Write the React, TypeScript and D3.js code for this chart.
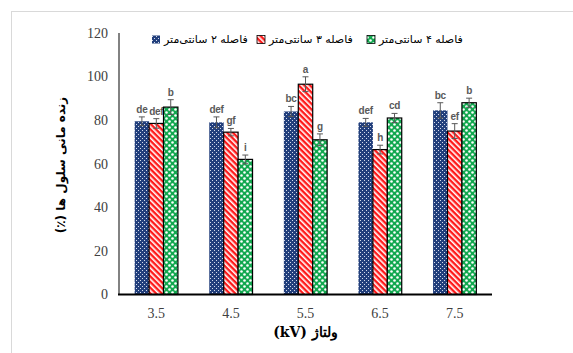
import React, { useEffect, useRef } from 'react';
import * as d3 from 'd3';

const voltages = ['3.5', '4.5', '5.5', '6.5', '7.5'];
const seriesNames = ['فاصله ۲ سانتی‌متر', 'فاصله ۳ سانتی‌متر', 'فاصله ۴ سانتی‌متر'];
const dist2 = [79.5, 79, 84, 79, 84.5];
const dist3 = [78.5, 74.5, 96.5, 66.5, 75];
const dist4 = [86, 62, 71, 81, 88];
const err2 = [2, 2.5, 2.3, 1.8, 3.5];
const err3 = [2.2, 1.7, 3.4, 2, 3.4];
const err4 = [3.4, 2, 2.7, 2.1, 2.1];
const letters2 = ['de', 'def', 'bc', 'def', 'bc'];
const letters3 = ['def', 'gf', 'a', 'h', 'ef'];
const letters4 = ['b', 'i', 'g', 'cd', 'b'];
const yTicks = [0, 20, 40, 60, 80, 100, 120];

const App = () => {
  const ref = useRef(null);

  useEffect(() => {
    const svg = d3.select(ref.current);
    svg.selectAll('*').remove();

    const W = 573, H = 353;
    const margin = { top: 33, right: 81, bottom: 58.5, left: 119 };

    const series = [
      { name: seriesNames[0], vals: dist2, errs: err2, lets: letters2, fill: 'url(#patBlue)', stroke: 'none' },
      { name: seriesNames[1], vals: dist3, errs: err3, lets: letters3, fill: 'url(#patRed)', stroke: '#000' },
      { name: seriesNames[2], vals: dist4, errs: err4, lets: letters4, fill: 'url(#patGreen)', stroke: '#000' },
    ];

    // patterns
    const defs = svg.append('defs');
    const pb = defs.append('pattern').attr('id', 'patBlue').attr('patternUnits', 'userSpaceOnUse')
      .attr('width', 4).attr('height', 4);
    pb.append('rect').attr('width', 4).attr('height', 4).attr('fill', '#223f7c');
    pb.append('rect').attr('x', 0).attr('y', 0).attr('width', 1).attr('height', 1).attr('fill', '#d5dcec');
    pb.append('rect').attr('x', 2).attr('y', 2).attr('width', 1).attr('height', 1).attr('fill', '#d5dcec');

    const pr = defs.append('pattern').attr('id', 'patRed').attr('patternUnits', 'userSpaceOnUse')
      .attr('width', 4).attr('height', 4).attr('patternTransform', 'rotate(45)');
    pr.append('rect').attr('width', 4).attr('height', 4).attr('fill', '#ffffff');
    pr.append('rect').attr('width', 4).attr('height', 2.4).attr('fill', '#ff1a1a');

    const pg = defs.append('pattern').attr('id', 'patGreen').attr('patternUnits', 'userSpaceOnUse')
      .attr('width', 6).attr('height', 6);
    pg.append('rect').attr('width', 6).attr('height', 6).attr('fill', '#12a84f');
    pg.append('circle').attr('cx', 1.5).attr('cy', 1.5).attr('r', 1.3).attr('fill', '#ffffff');
    pg.append('circle').attr('cx', 4.5).attr('cy', 4.5).attr('r', 1.3).attr('fill', '#ffffff');

    svg.append('rect').attr('width', W).attr('height', H).attr('fill', '#fff');
    // outer frame
    svg.append('rect').attr('x', 11.5).attr('y', 11.5).attr('width', 700).attr('height', 500)
      .attr('fill', 'none').attr('stroke', '#d9d9d9').attr('stroke-width', 1);

    const x = d3.scaleBand().domain(voltages)
      .range([margin.left, W - margin.right]).paddingInner(0.42).paddingOuter(0.21);
    const xs = d3.scaleBand().domain(['0', '1', '2']).range([0, x.bandwidth()]);
    const y = d3.scaleLinear().domain([0, 120]).range([H - margin.bottom, margin.top]);

    // y tick labels
    svg.append('g').selectAll('text').data(yTicks).enter().append('text')
      .attr('x', 108).attr('y', d => y(d)).attr('dy', '0.35em')
      .attr('text-anchor', 'end')
      .style('font-family', '"Liberation Serif", serif').style('font-size', '14px')
      .style('fill', '#404040').text(d => d);

    // bars
    series.forEach((s, si) => {
      const g = svg.append('g');
      g.selectAll('rect').data(voltages).enter().append('rect')
        .attr('x', (d, i) => x(d) + xs(String(si)))
        .attr('y', (d, i) => y(s.vals[i]))
        .attr('width', xs.bandwidth())
        .attr('height', (d, i) => y(0) - y(s.vals[i]))
        .attr('fill', s.fill)
        .attr('stroke', s.stroke).attr('stroke-width', 1.2);

      // error bars + letters
      voltages.forEach((v, i) => {
        const cx = x(v) + xs(String(si)) + xs.bandwidth() / 2;
        const top = y(s.vals[i] + s.errs[i]);
        const bot = y(s.vals[i] - s.errs[i]);
        g.append('line').attr('x1', cx).attr('x2', cx).attr('y1', top).attr('y2', bot)
          .attr('stroke', '#595959').attr('stroke-width', 1);
        [top, bot].forEach(yy => {
          g.append('line').attr('x1', cx - 3).attr('x2', cx + 3).attr('y1', yy).attr('y2', yy)
            .attr('stroke', '#595959').attr('stroke-width', 1);
        });
        g.append('text').attr('x', cx).attr('y', top - 4)
          .attr('text-anchor', 'middle')
          .style('font-family', '"Liberation Sans", Arial, sans-serif')
          .style('font-weight', 'bold').style('letter-spacing', '-0.3px')
          .style('font-size', '10px').style('fill', '#595959')
          .text(s.lets[i]);
      });
    });

    // axes lines
    svg.append('line').attr('x1', margin.left).attr('x2', margin.left)
      .attr('y1', margin.top).attr('y2', y(0))
      .attr('stroke', '#595959').attr('stroke-width', 1.5);
    svg.append('line').attr('x1', margin.left - 1).attr('x2', W - margin.right)
      .attr('y1', y(0)).attr('y2', y(0))
      .attr('stroke', '#000').attr('stroke-width', 2);

    // x tick labels
    svg.append('g').selectAll('text').data(voltages).enter().append('text')
      .attr('x', d => x(d) + x.bandwidth() / 2).attr('y', 318)
      .attr('text-anchor', 'middle')
      .style('font-family', '"Liberation Serif", serif').style('font-size', '14px')
      .style('fill', '#404040').text(d => d);

    // axis titles
    svg.append('text').attr('x', (margin.left + W - margin.right) / 2).attr('y', 337)
      .attr('text-anchor', 'middle').attr('direction', 'rtl')
      .style('font-family', '"DejaVu Serif", "Liberation Serif", serif').style('font-weight', 'bold')
      .style('font-size', '14px').style('fill', '#000')
      .text('ولتاژ (kV)');

    svg.append('text').attr('transform', 'translate(65,165) rotate(-90)')
      .attr('text-anchor', 'middle').attr('direction', 'rtl')
      .style('font-family', '"DejaVu Sans", sans-serif').style('font-weight', 'bold')
      .style('font-size', '12px').style('fill', '#000')
      .text('زنده مانی سلول ها (٪)');

    // legend
    const legX = [152, 257, 367];
    const legend = svg.append('g');
    series.forEach((s, i) => {
      legend.append('rect').attr('x', legX[i]).attr('y', 35.5).attr('width', 8).attr('height', 8)
        .attr('fill', s.fill).attr('stroke', s.stroke === 'none' ? 'none' : '#000').attr('stroke-width', 0.8);
      legend.append('text').attr('x', legX[i] + 12).attr('y', 43)
        .attr('direction', 'rtl').attr('text-anchor', 'end')
        .style('font-family', '"DejaVu Sans", sans-serif').style('font-size', '11px')
        .style('fill', '#000').text(s.name);
    });
  }, []);

  return (
    <svg ref={ref} width={573} height={353}
      style={{ position: 'absolute', left: 0, top: 0, display: 'block' }} />
  );
};

export default App;
